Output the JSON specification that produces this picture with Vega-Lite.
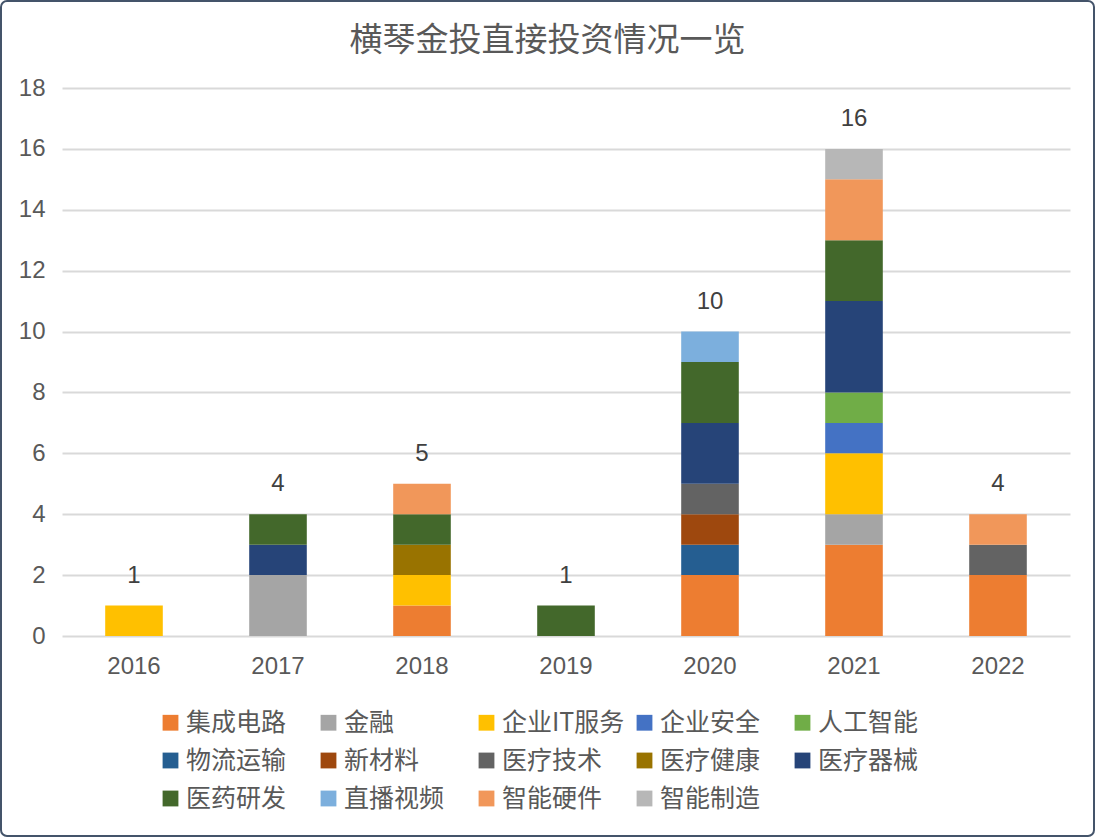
{
  "$schema": "https://vega.github.io/schema/vega-lite/v6.json",
  "width": 1093,
  "height": 835,
  "padding": 1,
  "autosize": {"type": "none"},
  "background": "white",
  "config": {
    "view": {"stroke": "#44546A", "strokeWidth": 2, "cornerRadius": 6, "fill": "white"},
    "font": "Liberation Sans, Noto Sans CJK SC"
  },
  "title": {
    "text": "横琴金投直接投资情况一览",
    "anchor": "middle",
    "offset": -57,
    "fontSize": 33,
    "fontWeight": "normal",
    "color": "#595959",
    "font": "Noto Sans CJK SC"
  },
  "data": {
    "values": [
      {"year": "2016", "cat": "企业IT服务", "n": 1, "k": 3},
      {"year": "2017", "cat": "金融", "n": 2, "k": 2},
      {"year": "2017", "cat": "医疗器械", "n": 1, "k": 10},
      {"year": "2017", "cat": "医药研发", "n": 1, "k": 11},
      {"year": "2018", "cat": "集成电路", "n": 1, "k": 1},
      {"year": "2018", "cat": "企业IT服务", "n": 1, "k": 3},
      {"year": "2018", "cat": "医疗健康", "n": 1, "k": 9},
      {"year": "2018", "cat": "医药研发", "n": 1, "k": 11},
      {"year": "2018", "cat": "智能硬件", "n": 1, "k": 13},
      {"year": "2019", "cat": "医药研发", "n": 1, "k": 11},
      {"year": "2020", "cat": "集成电路", "n": 2, "k": 1},
      {"year": "2020", "cat": "物流运输", "n": 1, "k": 6},
      {"year": "2020", "cat": "新材料", "n": 1, "k": 7},
      {"year": "2020", "cat": "医疗技术", "n": 1, "k": 8},
      {"year": "2020", "cat": "医疗器械", "n": 2, "k": 10},
      {"year": "2020", "cat": "医药研发", "n": 2, "k": 11},
      {"year": "2020", "cat": "直播视频", "n": 1, "k": 12},
      {"year": "2021", "cat": "集成电路", "n": 3, "k": 1},
      {"year": "2021", "cat": "金融", "n": 1, "k": 2},
      {"year": "2021", "cat": "企业IT服务", "n": 2, "k": 3},
      {"year": "2021", "cat": "企业安全", "n": 1, "k": 4},
      {"year": "2021", "cat": "人工智能", "n": 1, "k": 5},
      {"year": "2021", "cat": "医疗器械", "n": 3, "k": 10},
      {"year": "2021", "cat": "医药研发", "n": 2, "k": 11},
      {"year": "2021", "cat": "智能硬件", "n": 2, "k": 13},
      {"year": "2021", "cat": "智能制造", "n": 1, "k": 14},
      {"year": "2022", "cat": "集成电路", "n": 2, "k": 1},
      {"year": "2022", "cat": "医疗技术", "n": 1, "k": 8},
      {"year": "2022", "cat": "智能硬件", "n": 1, "k": 13}
    ]
  },
  "encoding": {
    "x": {
      "field": "year",
      "type": "nominal",
      "scale": {"range": [61, 1069], "paddingInner": 0.6, "paddingOuter": 0.3},
      "axis": {
        "title": null,
        "labelAngle": 0,
        "offset": -200,
        "domain": false,
        "ticks": false,
        "labelPadding": 18,
        "labelFontSize": 24,
        "labelColor": "#595959",
        "grid": false
      }
    }
  },
  "layer": [
    {
      "mark": {"type": "bar"},
      "encoding": {
        "y": {
          "field": "n",
          "type": "quantitative",
          "stack": "zero",
          "scale": {"domain": [0, 18], "range": [635, 87], "nice": false},
          "axis": {
            "title": null,
            "values": [0, 2, 4, 6, 8, 10, 12, 14, 16, 18],
            "offset": -61,
            "domain": false,
            "ticks": false,
            "labelPadding": 17,
            "labelFontSize": 24,
            "labelColor": "#595959",
            "grid": true,
            "gridColor": "#D9D9D9",
            "gridWidth": 2
          }
        },
        "color": {
          "field": "cat",
          "type": "nominal",
          "scale": {
            "domain": ["集成电路", "金融", "企业IT服务", "企业安全", "人工智能", "物流运输", "新材料", "医疗技术", "医疗健康", "医疗器械", "医药研发", "直播视频", "智能硬件", "智能制造"],
            "range": ["#ED7D31", "#A5A5A5", "#FFC000", "#4472C4", "#70AD47", "#255E91", "#9E480E", "#636363", "#997300", "#264478", "#43682B", "#7CAFDD", "#F1975A", "#B7B7B7"]
          },
          "legend": {
            "title": null,
            "orient": "none",
            "legendX": 157,
            "legendY": 709,
            "direction": "horizontal",
            "columns": 5,
            "gridAlign": "all",
            "symbolType": "square",
            "symbolSize": 250,
            "symbolStrokeWidth": 0,
            "labelFontSize": 25,
            "labelFont": "Noto Sans CJK SC",
            "labelColor": "#595959",
            "labelOffset": 3,
            "rowPadding": 12,
            "columnPadding": 7,
            "padding": 0,
            "labelLimit": 300
          }
        },
        "order": {"field": "k", "type": "quantitative", "sort": "ascending"}
      }
    },
    {
      "transform": [{"aggregate": [{"op": "sum", "field": "n", "as": "total"}], "groupby": ["year"]}],
      "mark": {"type": "text", "dy": -30, "fontSize": 24, "color": "#404040", "baseline": "middle"},
      "encoding": {
        "y": {"field": "total", "type": "quantitative"},
        "text": {"field": "total", "type": "quantitative"}
      }
    }
  ]
}
